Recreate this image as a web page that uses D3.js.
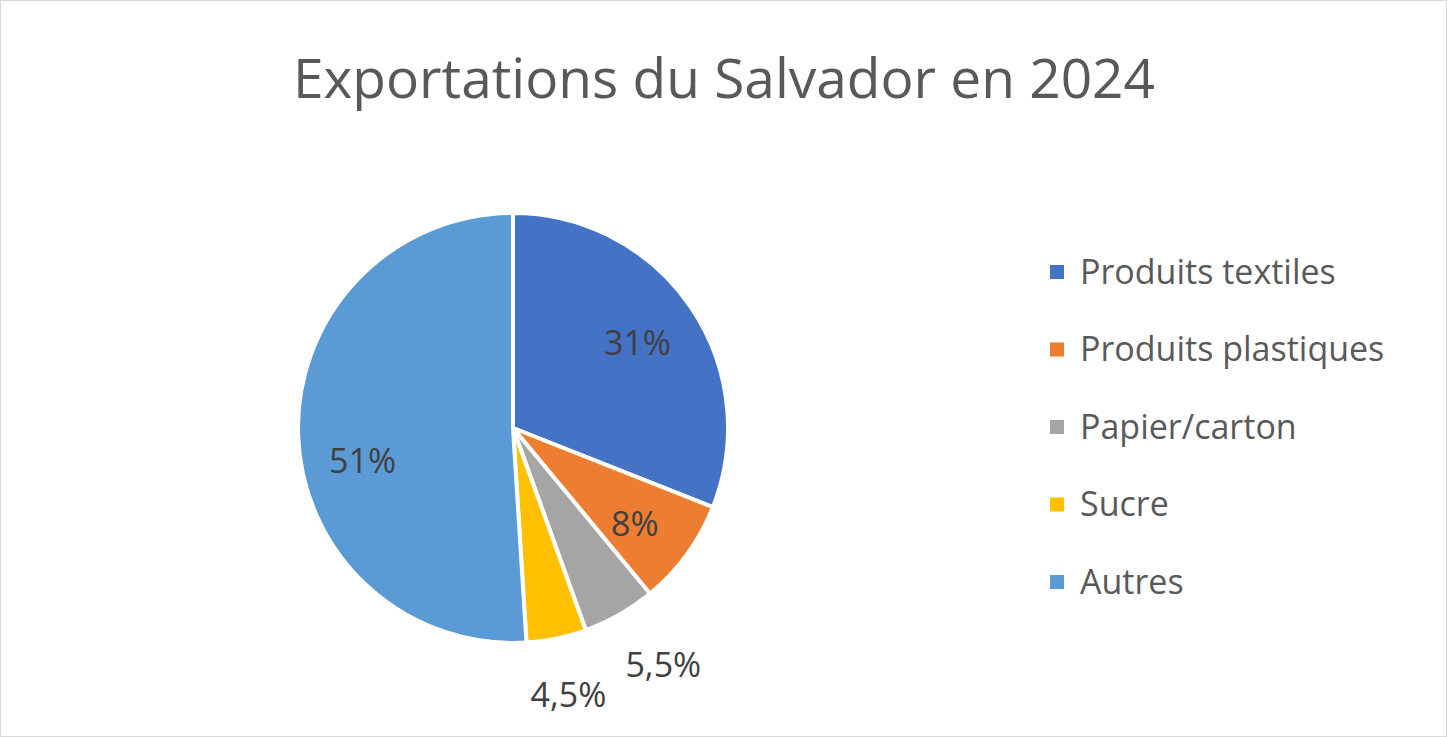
<!DOCTYPE html>
<html><head><meta charset="utf-8">
<script src="https://cdn.jsdelivr.net/npm/d3@7"></script>
<style>body{margin:0;background:#fff}</style>
</head><body>
<div id="chart"></div>
<script>
var categories = ["Produits textiles", "Produits plastiques", "Papier/carton", "Sucre", "Autres"];
var values = [31, 8, 5.5, 4.5, 51];
var labels = ["31%", "8%", "5,5%", "4,5%", "51%"];
var colors = ["#4472C4", "#ED7D31", "#A5A5A5", "#FFC000", "#5B9BD5"];

var W = 1447, H = 737, font = "'Open Sans', 'Noto Sans', sans-serif";
var svg = d3.select("#chart").append("svg").attr("width", W).attr("height", H);

svg.append("rect").attr("x", 0.5).attr("y", 0.5).attr("width", W - 1).attr("height", H - 1)
  .attr("fill", "#fff").attr("stroke", "#d9d9d9");

svg.append("text").attr("x", 724).attr("y", 98).attr("text-anchor", "middle")
  .attr("font-family", font).attr("font-size", 55).attr("fill", "#595959")
  .text("Exportations du Salvador en 2024");

var cx = 513, cy = 428, R = 215;
var pie = d3.pie().sort(null)(values);
var arc = d3.arc().innerRadius(0).outerRadius(R);
var g = svg.append("g").attr("transform", "translate(" + cx + "," + cy + ")");

g.selectAll("path").data(pie).enter().append("path")
  .attr("d", arc).attr("fill", function(d, i) { return colors[i]; })
  .attr("stroke", "#fff").attr("stroke-width", 4);

var inner = d3.arc().innerRadius(R * 0.7).outerRadius(R * 0.7);
var outer = d3.arc().innerRadius(R * 1.27).outerRadius(R * 1.27);
g.selectAll(".lbl").data(pie).enter().append("text")
  .attr("class", "lbl")
  .attr("transform", function(d, i) {
    var c = (i == 2 || i == 3) ? outer.centroid(d) : inner.centroid(d);
    if (i == 2) c[0] += 15;
    if (i == 4) c[1] += 28;
    if (i == 1) c[1] += 8;
    return "translate(" + c + ")";
  })
  .attr("text-anchor", "middle").attr("dy", "0.35em")
  .attr("font-family", font).attr("font-size", 34).attr("fill", "#404040")
  .text(function(d, i) { return labels[i]; });

var leg = svg.append("g");
var item = leg.selectAll("g").data(categories).enter().append("g")
  .attr("transform", function(d, i) { return "translate(1050," + (272 + i * 77.5) + ")"; });
item.append("rect").attr("x", 0).attr("y", -7).attr("width", 14).attr("height", 14)
  .attr("fill", function(d, i) { return colors[i]; });
item.append("text").attr("x", 30).attr("dy", "0.35em")
  .attr("font-family", font).attr("font-size", 34).attr("fill", "#595959")
  .text(function(d) { return d; });
</script>
</body></html>
